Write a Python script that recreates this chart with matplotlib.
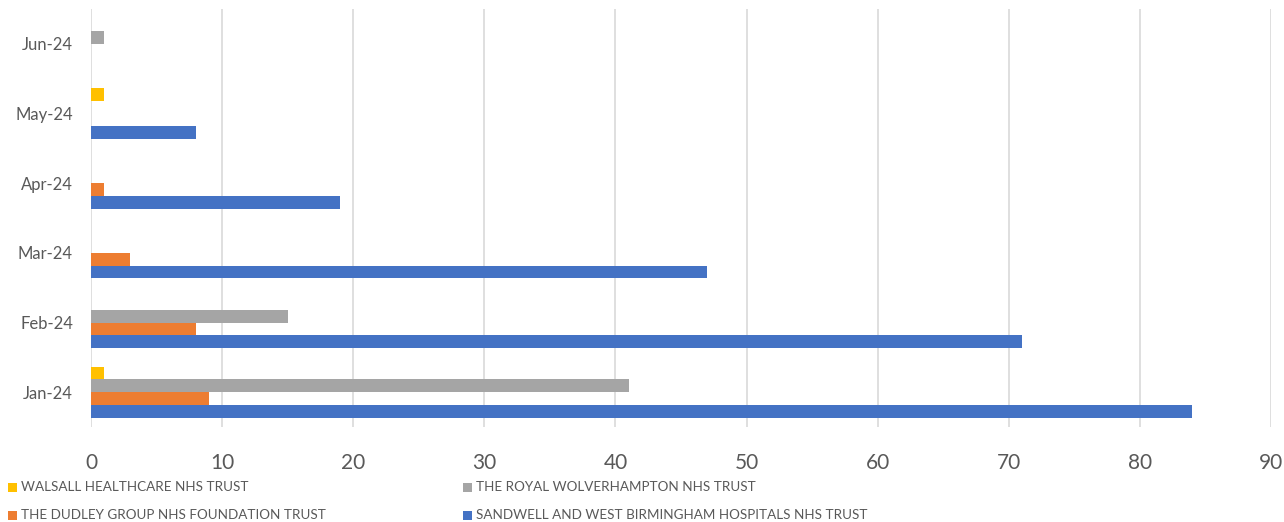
import matplotlib
matplotlib.use("Agg")
import matplotlib.pyplot as plt
from matplotlib.patches import Rectangle
import numpy as np

months = ["Jan-24", "Feb-24", "Mar-24", "Apr-24", "May-24", "Jun-24"]
sandwell = [84, 71, 47, 19, 8, 0]
dudley = [9, 8, 3, 1, 0, 0]
wolverhampton = [41, 15, 0, 0, 0, 1]
walsall = [1, 0, 0, 0, 1, 0]

series_names = [
    "SANDWELL AND WEST BIRMINGHAM HOSPITALS NHS TRUST",
    "THE DUDLEY GROUP NHS FOUNDATION TRUST",
    "THE ROYAL WOLVERHAMPTON NHS TRUST",
    "WALSALL HEALTHCARE NHS TRUST",
]
series_values = [sandwell, dudley, wolverhampton, walsall]
colors = ["#4472C4", "#ED7D31", "#A5A5A5", "#FFC000"]
x_ticks = [0, 10, 20, 30, 40, 50, 60, 70, 80, 90]

plt.rcParams["font.family"] = ["Lato", "DejaVu Sans"]
text_color = "#595959"

W, H = 1284, 522
fig = plt.figure(figsize=(W / 100, H / 100), dpi=100)
ax = fig.add_axes([91 / W, 1 - 427 / H, (1271 - 91) / W, (427 - 9) / H])

y = np.arange(len(months))
h = 0.183
offsets = [-1.5 * h, -0.5 * h, 0.5 * h, 1.5 * h]
for vals, col, off in zip(series_values, colors, offsets):
    ax.barh(y + off, vals, height=h, color=col, edgecolor="none", zorder=3)

ax.set_xlim(0, 90)
ax.set_ylim(-0.5, len(months) - 0.5)
ax.set_xticks(x_ticks)
ax.set_yticks(y)
ax.set_yticklabels(months)
ax.grid(axis="x", color="#D9D9D9", linewidth=1.2, zorder=0)
for s in ax.spines.values():
    s.set_visible(False)
ax.tick_params(axis="both", length=0, colors=text_color)
ax.tick_params(axis="x", labelsize=15, pad=19)
ax.tick_params(axis="y", labelsize=12, pad=13)

# legend, two rows by two columns along the bottom
legend_items = [
    (series_names[3], colors[3], 8, 487),
    (series_names[1], colors[1], 8, 515),
    (series_names[2], colors[2], 463, 487),
    (series_names[0], colors[0], 463, 515),
]
for name, col, px, py in legend_items:
    fig.patches.append(Rectangle((px / W, (H - py - 5) / H), 9 / W, 9 / H,
                                 transform=fig.transFigure, facecolor=col,
                                 edgecolor="none"))
    fig.text((px + 13) / W, (H - py) / H, name, fontsize=9.7,
             color=text_color, va="center", ha="left")

fig.savefig("out.png", dpi=100)
